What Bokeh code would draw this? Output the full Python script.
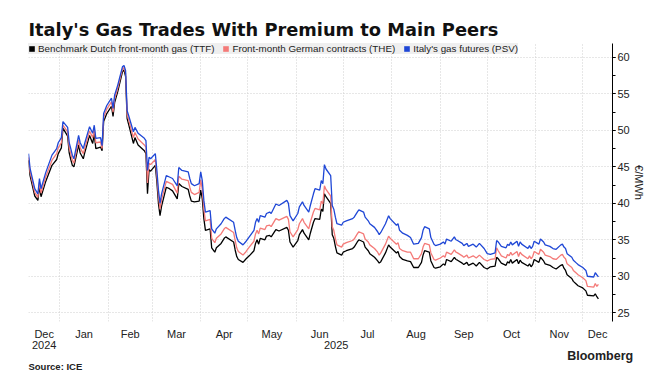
import pandas as pd
from bokeh.plotting import figure
from bokeh.models import (Range1d, FixedTicker, DatetimeAxis, Legend, LegendItem,
                          SingleIntervalTicker)
from bokeh.embed import file_html
from bokeh.resources import INLINE

# ---------------- data ----------------
dates = [
    "2024-12-12", "2024-12-13", "2024-12-16", "2024-12-18", "2024-12-19", "2024-12-20",
    "2024-12-23", "2024-12-27", "2024-12-30", "2024-12-31",
    "2025-01-02", "2025-01-03", "2025-01-06", "2025-01-07", "2025-01-08", "2025-01-09",
    "2025-01-10", "2025-01-13", "2025-01-14", "2025-01-16", "2025-01-17", "2025-01-20",
    "2025-01-22", "2025-01-23", "2025-01-24", "2025-01-27", "2025-01-28", "2025-01-29",
    "2025-01-31",
    "2025-02-03", "2025-02-04", "2025-02-05", "2025-02-07", "2025-02-10", "2025-02-11",
    "2025-02-12", "2025-02-13", "2025-02-14", "2025-02-17", "2025-02-18", "2025-02-20",
    "2025-02-24", "2025-02-25", "2025-02-26", "2025-02-27", "2025-02-28",
    "2025-03-03", "2025-03-04", "2025-03-05", "2025-03-06", "2025-03-07", "2025-03-10",
    "2025-03-12", "2025-03-14", "2025-03-17", "2025-03-18", "2025-03-20", "2025-03-24",
    "2025-03-25", "2025-03-26", "2025-03-28", "2025-03-31",
    "2025-04-01", "2025-04-02", "2025-04-03", "2025-04-04", "2025-04-07", "2025-04-08",
    "2025-04-10", "2025-04-11", "2025-04-14", "2025-04-16", "2025-04-17", "2025-04-22",
    "2025-04-23", "2025-04-24", "2025-04-25", "2025-04-28", "2025-04-30",
    "2025-05-02", "2025-05-05", "2025-05-06", "2025-05-07", "2025-05-08", "2025-05-09",
    "2025-05-12", "2025-05-13", "2025-05-15", "2025-05-16", "2025-05-19", "2025-05-21",
    "2025-05-26", "2025-05-27", "2025-05-28", "2025-05-30",
    "2025-06-02", "2025-06-03", "2025-06-05", "2025-06-06", "2025-06-09", "2025-06-10",
    "2025-06-12", "2025-06-13", "2025-06-16", "2025-06-17", "2025-06-18", "2025-06-19",
    "2025-06-20", "2025-06-23", "2025-06-24", "2025-06-25", "2025-06-26", "2025-06-27",
    "2025-06-30",
    "2025-07-01", "2025-07-03", "2025-07-07", "2025-07-08", "2025-07-10", "2025-07-11",
    "2025-07-14", "2025-07-15", "2025-07-17", "2025-07-18", "2025-07-21", "2025-07-23",
    "2025-07-24", "2025-07-25", "2025-07-28", "2025-07-30", "2025-07-31",
    "2025-08-04", "2025-08-05", "2025-08-06", "2025-08-08", "2025-08-11", "2025-08-13",
    "2025-08-15", "2025-08-18", "2025-08-20", "2025-08-21", "2025-08-22", "2025-08-25",
    "2025-08-26", "2025-08-28", "2025-08-29",
    "2025-09-01", "2025-09-03", "2025-09-04", "2025-09-05", "2025-09-08", "2025-09-10",
    "2025-09-11", "2025-09-12", "2025-09-15", "2025-09-16", "2025-09-18", "2025-09-19",
    "2025-09-22", "2025-09-24", "2025-09-26", "2025-09-29",
    "2025-10-01", "2025-10-03", "2025-10-06", "2025-10-07", "2025-10-08", "2025-10-10",
    "2025-10-13", "2025-10-14", "2025-10-15", "2025-10-16", "2025-10-17", "2025-10-20",
    "2025-10-21", "2025-10-22", "2025-10-23", "2025-10-27", "2025-10-28", "2025-10-29",
    "2025-10-30", "2025-10-31",
    "2025-11-03", "2025-11-04", "2025-11-06", "2025-11-07", "2025-11-10", "2025-11-12",
    "2025-11-14", "2025-11-17", "2025-11-18", "2025-11-19", "2025-11-20", "2025-11-21",
    "2025-11-24", "2025-11-25", "2025-11-27", "2025-11-28",
    "2025-12-01", "2025-12-03", "2025-12-04", "2025-12-08", "2025-12-09", "2025-12-10",
    "2025-12-11",
]

# Italy's gas futures (PSV), EUR/MWh
psv = [
    46.8, 44.8, 42.0, 41.3, 43.4, 42.0, 44.2, 46.6, 47.5, 48.3,
    49.0, 51.2, 50.4, 48.3, 47.5, 46.6, 46.1, 49.3, 48.3, 47.5, 48.3, 50.5,
    49.6, 50.7, 48.9, 49.0, 47.9, 52.3, 53.4,
    54.4, 53.0, 54.8, 56.2, 58.7, 58.9, 58.2, 52.7, 52.0, 49.8, 50.4, 49.6,
    48.9, 48.6, 44.5, 46.3, 46.1,
    46.8, 44.5, 41.8, 40.0, 41.3, 43.8, 43.6, 43.4, 42.4, 44.9, 44.5, 44.3,
    43.4, 42.7, 42.4, 42.7,
    44.3, 43.1, 40.4, 38.8, 39.0, 36.5, 35.9, 36.5, 37.2, 37.9, 38.1, 37.4,
    36.3, 35.3, 34.8, 34.3, 34.8,
    35.4, 36.3, 37.4, 37.9, 37.4, 38.3, 38.1, 38.6, 38.8, 38.6, 39.9, 39.7,
    40.4, 40.0, 38.3, 37.6,
    38.6, 39.5, 40.2, 39.7, 38.8, 39.7, 41.3, 42.0, 41.8, 43.1, 42.7, 45.3,
    44.7, 43.8, 39.7, 39.2, 38.1, 37.2, 37.0,
    37.4, 37.6, 37.9, 38.1, 38.8, 39.1, 38.8, 38.1, 37.6, 37.2, 36.7, 36.1,
    35.7, 36.0, 37.2, 38.3, 37.9,
    37.0, 37.2, 36.3, 35.9, 35.6, 35.3, 34.4, 34.5, 35.3, 36.3, 36.8, 36.5,
    35.3, 34.4, 34.2,
    34.4, 34.7, 34.4, 35.1, 34.8, 35.4, 35.0, 34.9, 34.5, 34.2, 34.5, 34.1,
    34.4, 34.0, 34.5, 33.8,
    33.1, 33.0, 33.2, 34.9, 34.7, 34.1, 33.9, 34.4, 34.2, 34.7, 34.3, 34.8,
    34.1, 34.7, 34.4, 33.8, 34.2, 33.8, 34.1, 34.8,
    34.4, 35.1, 34.7, 34.3, 34.1, 33.8, 33.7, 34.3, 34.4, 34.0, 33.8, 33.1,
    32.6, 32.2, 31.8, 31.6,
    31.2, 30.8, 30.0, 29.9, 30.5, 30.2, 29.9,
]

# Front-month German contracts (THE), EUR/MWh
the = [
    46.3, 44.3, 41.5, 40.8, 42.9, 41.4, 43.6, 45.9, 46.8, 47.6,
    48.3, 50.7, 49.8, 47.6, 46.8, 45.9, 45.5, 48.7, 47.6, 46.8, 47.6, 49.9,
    49.0, 50.1, 48.3, 48.4, 47.5, 51.8, 52.9,
    53.9, 52.5, 54.3, 55.8, 58.4, 58.6, 57.8, 52.2, 51.4, 49.0, 49.7, 48.8,
    48.0, 47.7, 42.8, 45.5, 45.3,
    46.0, 43.7, 41.0, 39.2, 40.5, 43.0, 42.8, 42.6, 41.4, 43.7, 43.3, 43.1,
    42.2, 41.5, 41.2, 41.5,
    43.2, 41.9, 39.2, 37.6, 37.8, 35.2, 34.6, 35.2, 35.8, 36.5, 36.7, 36.0,
    34.9, 33.9, 33.4, 32.9, 33.4,
    34.0, 34.8, 35.8, 36.3, 35.8, 36.6, 36.4, 36.9, 37.0, 36.8, 37.9, 37.7,
    38.2, 37.8, 36.1, 35.4,
    36.4, 37.2, 37.9, 37.4, 36.5, 37.4, 38.8, 39.3, 39.1, 40.3, 39.9, 42.4,
    41.9, 41.0, 36.8, 36.3, 35.2, 34.3, 34.0,
    34.4, 34.6, 34.9, 35.1, 35.8, 36.1, 35.8, 35.1, 34.7, 34.3, 33.8, 33.3,
    32.9, 33.2, 34.4, 35.5, 35.2,
    34.4, 34.6, 33.8, 33.5, 33.3, 33.3, 32.4, 32.4, 33.1, 34.0, 34.5, 34.3,
    33.2, 32.3, 32.2,
    32.5, 32.8, 32.6, 33.3, 33.0, 33.6, 33.3, 33.2, 32.8, 32.6, 32.9, 32.5,
    32.8, 32.5, 32.9, 32.3,
    32.1, 32.3, 32.4, 33.9, 33.5, 32.8, 32.5, 33.0, 32.8, 33.3, 32.9, 33.4,
    32.7, 33.3, 33.0, 32.4, 32.8, 32.4, 32.7, 33.4,
    33.0, 33.7, 33.3, 32.9, 32.7, 32.4, 32.3, 32.9, 33.0, 32.6, 32.4, 31.7,
    31.2, 30.8, 30.4, 30.2,
    29.8, 29.4, 28.6, 28.5, 29.0, 28.6, 28.9,
]

# Benchmark Dutch front-month gas (TTF), EUR/MWh
ttf = [
    45.9, 43.8, 41.0, 40.4, 42.3, 40.9, 43.0, 45.2, 46.0, 46.8,
    47.6, 50.3, 49.2, 46.9, 46.0, 45.2, 45.0, 48.0, 46.9, 46.1, 47.0, 49.3,
    48.2, 49.5, 47.5, 47.7, 47.2, 51.2, 52.3,
    53.3, 51.9, 53.8, 55.3, 58.0, 58.3, 57.4, 51.6, 50.8, 48.2, 49.0, 48.0,
    47.2, 46.8, 41.3, 44.6, 44.4,
    45.2, 42.9, 40.0, 38.3, 39.6, 42.2, 42.0, 41.7, 40.6, 42.7, 42.3, 41.9,
    41.0, 40.3, 40.2, 40.3,
    41.8, 40.6, 37.9, 36.3, 36.5, 33.9, 33.3, 33.9, 34.5, 35.2, 35.4, 34.7,
    33.6, 32.7, 32.3, 31.9, 32.4,
    32.8, 33.5, 34.5, 35.0, 34.4, 35.2, 35.0, 35.5, 35.6, 35.4, 36.4, 36.2,
    36.7, 36.3, 34.7, 34.0,
    34.9, 35.7, 36.4, 35.9, 35.0, 35.9, 37.4, 37.9, 37.8, 39.2, 38.9, 41.3,
    40.9, 40.0, 35.7, 35.2, 34.1, 33.2, 32.9,
    33.3, 33.5, 33.8, 34.0, 34.7, 35.0, 34.7, 34.0, 33.5, 33.1, 32.6, 32.1,
    31.8, 32.0, 33.2, 34.3, 34.0,
    33.2, 33.4, 32.7, 32.3, 32.1, 32.0, 31.2, 31.2, 31.9, 32.9, 33.5, 33.3,
    32.1, 31.2, 31.1,
    31.3, 31.7, 31.5, 32.3, 32.0, 32.6, 32.3, 32.2, 31.8, 31.6, 31.9, 31.5,
    31.8, 31.4, 31.9, 31.2,
    31.0, 31.3, 31.4, 32.6, 32.4, 31.8, 31.5, 32.0, 31.8, 32.3, 31.8, 32.3,
    31.7, 32.2, 31.9, 31.4, 31.7, 31.3, 31.6, 32.3,
    31.9, 32.6, 32.1, 31.7, 31.5, 31.2, 31.0, 31.5, 31.6, 31.1, 30.8, 30.2,
    29.7, 29.3, 28.9, 28.7,
    28.4, 28.0, 27.4, 27.3, 27.6, 27.2, 26.9,
]

assert len(dates) == len(psv) == len(the) == len(ttf)

series_names = ["Benchmark Dutch front-month gas (TTF)",
                "Front-month German contracts (THE)",
                "Italy's gas futures (PSV)"]
year_lbl = ["2024", "2025"]
y_ticks_step = 5

# ---------------- style ----------------
C_TTF = "#000000"
C_THE = "#f47a78"
C_PSV = "#1f47d6"
FONT = "Liberation Sans"
TXT = "#222222"

x = pd.to_datetime(dates)
x_start = pd.Timestamp("2024-12-12")
x_end = pd.Timestamp("2025-12-20")

p = figure(frame_width=584, frame_height=278, x_axis_type="datetime",
           y_axis_location="right", output_backend="svg", toolbar_location=None,
           x_range=Range1d(x_start, x_end), y_range=Range1d(23.8, 61.9),
           min_border_left=28, min_border_right=50, min_border_top=43,
           min_border_bottom=0)
p.outline_line_color = None
p.background_fill_color = "white"
p.border_fill_color = "white"

# title
p.title.text = "Italy's Gas Trades With Premium to Main Peers"
p.title.text_font = "DejaVu Sans"
p.title.text_font_size = "17.8px"
p.title.text_font_style = "bold"
p.title.text_color = "#111111"
p.title.align = "left"
p.title.standoff = 7

# lines
p.line(x, ttf, color=C_TTF, line_width=1.3)
p.line(x, the, color=C_THE, line_width=1.3)
p.line(x, psv, color=C_PSV, line_width=1.3)

# month ticks (label centred on each visible month), gridlines at month starts
def ms(ts):
    return float(ts.value // 10**6)

def bare_axis(ticks, labels, standoff, size, style="normal"):
    return DatetimeAxis(ticker=FixedTicker(ticks=[ms(t) for t in ticks]),
                        major_label_overrides={ms(t): l for t, l in zip(ticks, labels)},
                        axis_line_color=None, major_tick_line_color=None,
                        minor_tick_line_color=None, major_tick_in=0, major_tick_out=0,
                        minor_tick_in=0, minor_tick_out=0,
                        major_label_standoff=standoff,
                        major_label_text_font=FONT, major_label_text_font_size=size,
                        major_label_text_font_style=style,
                        major_label_text_color=TXT)

month_starts = list(pd.date_range("2025-01-01", "2025-12-01", freq="MS"))
edges = [x_start] + month_starts + [x_end]
month_mid = [a + (b - a) / 2 for a, b in zip(edges[:-1], edges[1:])]
month_lbl = [t.strftime("%b") for t in edges[:-1]]

xa = p.xaxis[0]
xa.ticker = FixedTicker(ticks=[ms(t) for t in month_mid])
xa.major_label_overrides = {ms(t): l for t, l in zip(month_mid, month_lbl)}
xa.axis_line_color = None
xa.major_tick_line_color = None
xa.minor_tick_line_color = None
xa.major_tick_in = 0
xa.major_tick_out = 0
xa.minor_tick_in = 0
xa.minor_tick_out = 0
xa.major_label_standoff = 6
xa.major_label_text_font = FONT
xa.major_label_text_font_size = "11px"
xa.major_label_text_color = TXT

year_edges = [x_start, pd.Timestamp("2025-01-01"), x_end]
year_mid = [a + (b - a) / 2 for a, b in zip(year_edges[:-1], year_edges[1:])]
p.add_layout(bare_axis(year_mid, year_lbl, -2, "11px"), "below")

# footer rows: brand (right) and source note (left)
span = x_end - x_start
brand_at = [x_start + span * 0.979]
source_at = [x_start + span * 0.046]
p.add_layout(bare_axis(brand_at, ["Bloomberg"], -3, "12.5px", "bold"), "below")
p.add_layout(bare_axis(source_at, ["Source: ICE"], -5, "9.5px", "bold"), "below")

p.xgrid.ticker = FixedTicker(ticks=[ms(t) for t in month_starts])
p.xgrid.grid_line_color = "#cfcfcf"
p.xgrid.grid_line_dash = "1 2"

# y axis
yax = p.yaxis[0]
yax.ticker = SingleIntervalTicker(interval=y_ticks_step, num_minor_ticks=2)
yax.axis_line_color = "black"
yax.major_tick_line_color = "black"
yax.minor_tick_line_color = "black"
yax.major_tick_in = 0
yax.major_tick_out = 3
yax.minor_tick_in = 0
yax.minor_tick_out = 3
yax.major_label_standoff = 2
yax.major_label_text_font = FONT
yax.major_label_text_font_size = "11px"
yax.major_label_text_color = TXT
yax.axis_label = "€/MWh"
yax.axis_label_text_font = FONT
yax.axis_label_text_font_size = "11px"
yax.axis_label_text_font_style = "normal"
yax.axis_label_text_color = TXT
yax.axis_label_standoff = 0
p.ygrid.grid_line_color = "#cfcfcf"
p.ygrid.grid_line_dash = "1 2"

# legend swatches: zero-area quads built from each series (invisible in the plot)
q1 = p.quad(left=x, right=x, bottom=ttf, top=ttf, fill_color=C_TTF, line_color=None)
q2 = p.quad(left=x, right=x, bottom=the, top=the, fill_color=C_THE, line_color=None)
q3 = p.quad(left=x, right=x, bottom=psv, top=psv, fill_color=C_PSV, line_color=None)
legend = Legend(items=[LegendItem(label=series_names[0], renderers=[q1]),
                       LegendItem(label=series_names[1], renderers=[q2]),
                       LegendItem(label=series_names[2], renderers=[q3])],
                orientation="horizontal", location="top_left",
                background_fill_color="#efefef", background_fill_alpha=1.0,
                border_line_color=None, margin=0, padding=2, spacing=8,
                glyph_width=7, glyph_height=7, label_standoff=3, label_height=7,
                label_text_font=FONT, label_text_font_size="9.8px",
                label_text_color=TXT)
p.add_layout(legend)

open("out.html", "w").write(file_html(p, INLINE))
